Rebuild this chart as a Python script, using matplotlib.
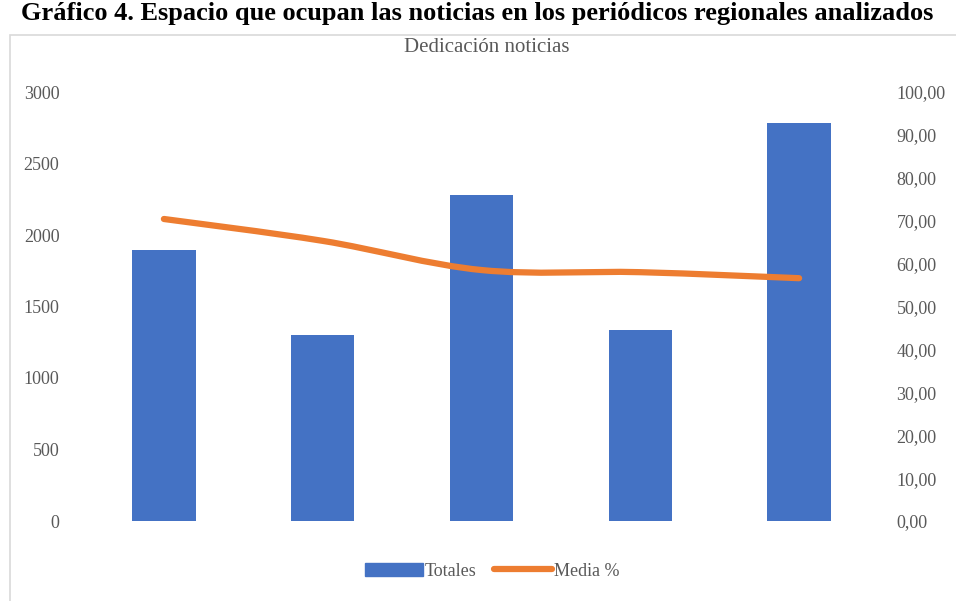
import matplotlib
matplotlib.use('Agg')
import matplotlib.pyplot as plt
from matplotlib.path import Path
from matplotlib.patches import PathPatch, Rectangle
from matplotlib.lines import Line2D
import numpy as np

categorias = ['1', '2', '3', '4', '5']
totales = [1895, 1301, 2280, 1336, 2783]
media = [70.4, 65.3, 58.5, 58.0, 56.6]

azul = '#4472C4'
naranja = '#ED7D31'
gris = '#595959'
plt.rcParams['font.family'] = ['Liberation Serif', 'DejaVu Serif']

fig = plt.figure(figsize=(9.56, 6.01), dpi=100)
ax = fig.add_axes([84.5 / 956, 1 - 521 / 601, 794 / 956, 429 / 601])
ax2 = ax.twinx()

x = np.arange(len(categorias))
ax.bar(x, totales, width=0.4, color=azul, zorder=2)
ax.set_xlim(-0.5, len(categorias) - 0.5)
ax.set_ylim(0, 3000)
ax.set_yticks(range(0, 3001, 500))
ax.set_xticks([])
ax2.set_ylim(0, 100)
ax2.set_yticks(range(0, 101, 10))
ax2.set_yticklabels(['%d,00' % v for v in range(0, 101, 10)])

for a in (ax, ax2):
    for s in a.spines.values():
        s.set_visible(False)
    a.tick_params(length=0, labelsize=13, labelcolor=gris)
ax.tick_params(axis='y', pad=18)
ax2.tick_params(axis='y', pad=13)

# smoothed line (Bezier through the data points)
px = list(x)
py = media
verts = [(px[0], py[0])]
codes = [Path.MOVETO]
n = len(px)
t = 1 / 6
for i in range(n - 1):
    p0 = (px[i - 1], py[i - 1]) if i > 0 else (px[i], py[i])
    p1 = (px[i], py[i])
    p2 = (px[i + 1], py[i + 1])
    p3 = (px[i + 2], py[i + 2]) if i + 2 < n else p2
    c1 = (p1[0] + (p2[0] - p0[0]) * t, p1[1] + (p2[1] - p0[1]) * t)
    c2 = (p2[0] - (p3[0] - p1[0]) * t, p2[1] - (p3[1] - p1[1]) * t)
    verts += [c1, c2, p2]
    codes += [Path.CURVE4] * 3
ax2.add_patch(PathPatch(Path(verts, codes), facecolor='none', edgecolor=naranja,
                        lw=4.5, capstyle='round', joinstyle='round', zorder=3))

fig.text(487 / 956, 1 - 47 / 601, 'Dedicación noticias', ha='center', va='center',
         fontsize=15, color=gris)
fig.text(477 / 956, 1 - 20 / 601, 'Gráfico 4. Espacio que ocupan las noticias en los periódicos regionales analizados',
         ha='center', va='baseline', fontsize=19, fontweight='bold', color='black')

# chart border
fig.patches.append(Rectangle((10 / 956, -0.05), 1.0, 1 - 35 / 601 + 0.05, transform=fig.transFigure,
                             facecolor='none', edgecolor='#D9D9D9', lw=1.2))

handles = [Rectangle((0, 0), 1, 1, color=azul),
           Line2D([0], [0], color=naranja, lw=4.5, solid_capstyle='round')]
fig.legend(handles, ['Totales', 'Media %'], loc='center', bbox_to_anchor=(492 / 956, 1 - 571 / 601),
           ncol=2, frameon=False, fontsize=13, labelcolor=gris, handlelength=3.2,
           handletextpad=0.1, columnspacing=1.0)

fig.savefig('out.png', dpi=100)
